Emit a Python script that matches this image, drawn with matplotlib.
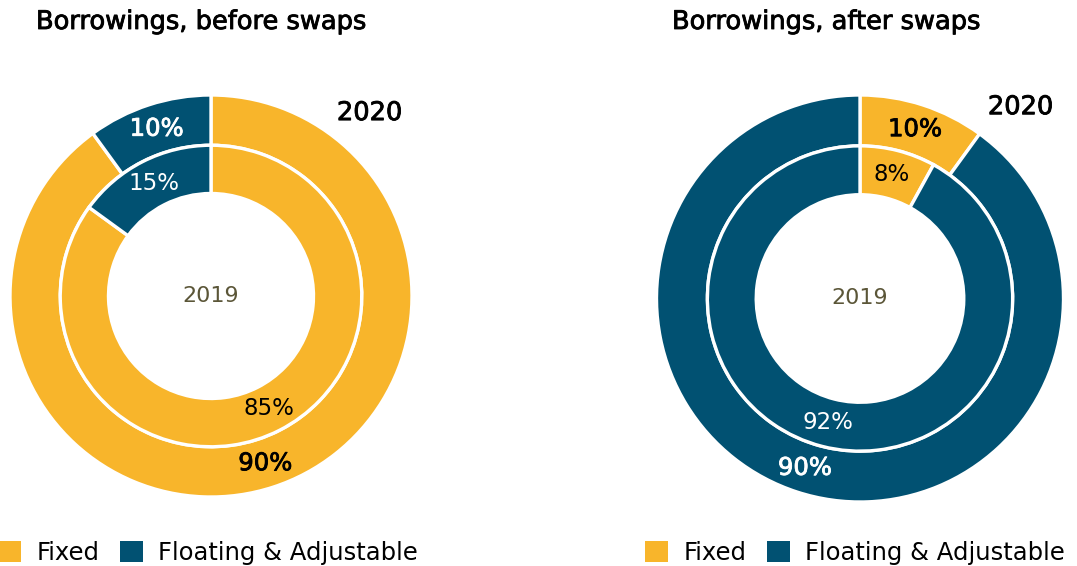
import matplotlib.pyplot as plt
import matplotlib.patheffects as pe
from matplotlib.patches import Patch

# Data
categories = ['Fixed', 'Floating & Adjustable']
before_2020 = [90, 10]
before_2019 = [85, 15]
after_2020 = [10, 90]
after_2019 = [8, 92]
titles = ['Borrowings, before swaps', 'Borrowings, after swaps']

YELLOW = '#F8B52B'
BLUE = '#015172'

plt.rcParams['font.family'] = ['DejaVu Sans']

W, H = 1077, 566
fig = plt.figure(figsize=(W / 100, H / 100), dpi=100)


def medium(color):
    # thin outline to get a "medium" weight out of DejaVu Sans
    return [pe.withStroke(linewidth=0.6, foreground=color)]


def donut(cx, cy, r, outer, inner, title, title_x, year_xy):
    ax = fig.add_axes([(cx - r) / W, (H - cy - r) / H, 2 * r / W, 2 * r / H])
    colors = [YELLOW, BLUE]
    wp = dict(edgecolor='white', linewidth=2.4)
    _, _, t_out = ax.pie(outer, radius=1, colors=colors, startangle=90,
                         counterclock=False, wedgeprops=dict(width=0.25, **wp),
                         autopct=lambda p: f'{p:.0f}%', pctdistance=0.875)
    _, _, t_in = ax.pie(inner, radius=0.75, colors=colors, startangle=90,
                        counterclock=False, wedgeprops=dict(width=0.24, **wp),
                        autopct=lambda p: f'{p:.0f}%', pctdistance=0.84)
    for i, t in enumerate(t_out):
        c = 'black' if colors[i] == YELLOW else 'white'
        t.set_fontsize(17.5)
        t.set_color(c)
        t.set_path_effects(medium(c))
    for i, t in enumerate(t_in):
        t.set_fontsize(16.5)
        t.set_color('black' if colors[i] == YELLOW else 'white')
    ax.set_xlim(-1, 1)
    ax.set_ylim(-1, 1)
    ax.text(0, 0, '2019', ha='center', va='center', fontsize=16, color='#5B5638')
    ax.text(year_xy[0], year_xy[1], '2020', ha='center', va='center',
            fontsize=18.5, color='black', path_effects=medium('black'))
    fig.text(title_x / W, 1 - 22 / H, title, ha='left', va='center',
             fontsize=18.5, path_effects=medium('black'))


donut(211, 296, 201, before_2020, before_2019, titles[0], 36, (0.79, 0.91))
donut(860, 298.5, 203.5, after_2020, after_2019, titles[1], 672, (0.79, 0.94))

handles = [Patch(facecolor=YELLOW, edgecolor='none'), Patch(facecolor=BLUE, edgecolor='none')]
for x0 in (-2, 645):
    fig.legend(handles, categories, loc='center left', bbox_to_anchor=(x0 / W, 13 / H),
               ncol=2, frameon=False, fontsize=17.5, handlelength=0.95, handleheight=0.95,
               handletextpad=0.62, columnspacing=0.85, borderpad=0, borderaxespad=0)

fig.savefig('out.png', dpi=100)
